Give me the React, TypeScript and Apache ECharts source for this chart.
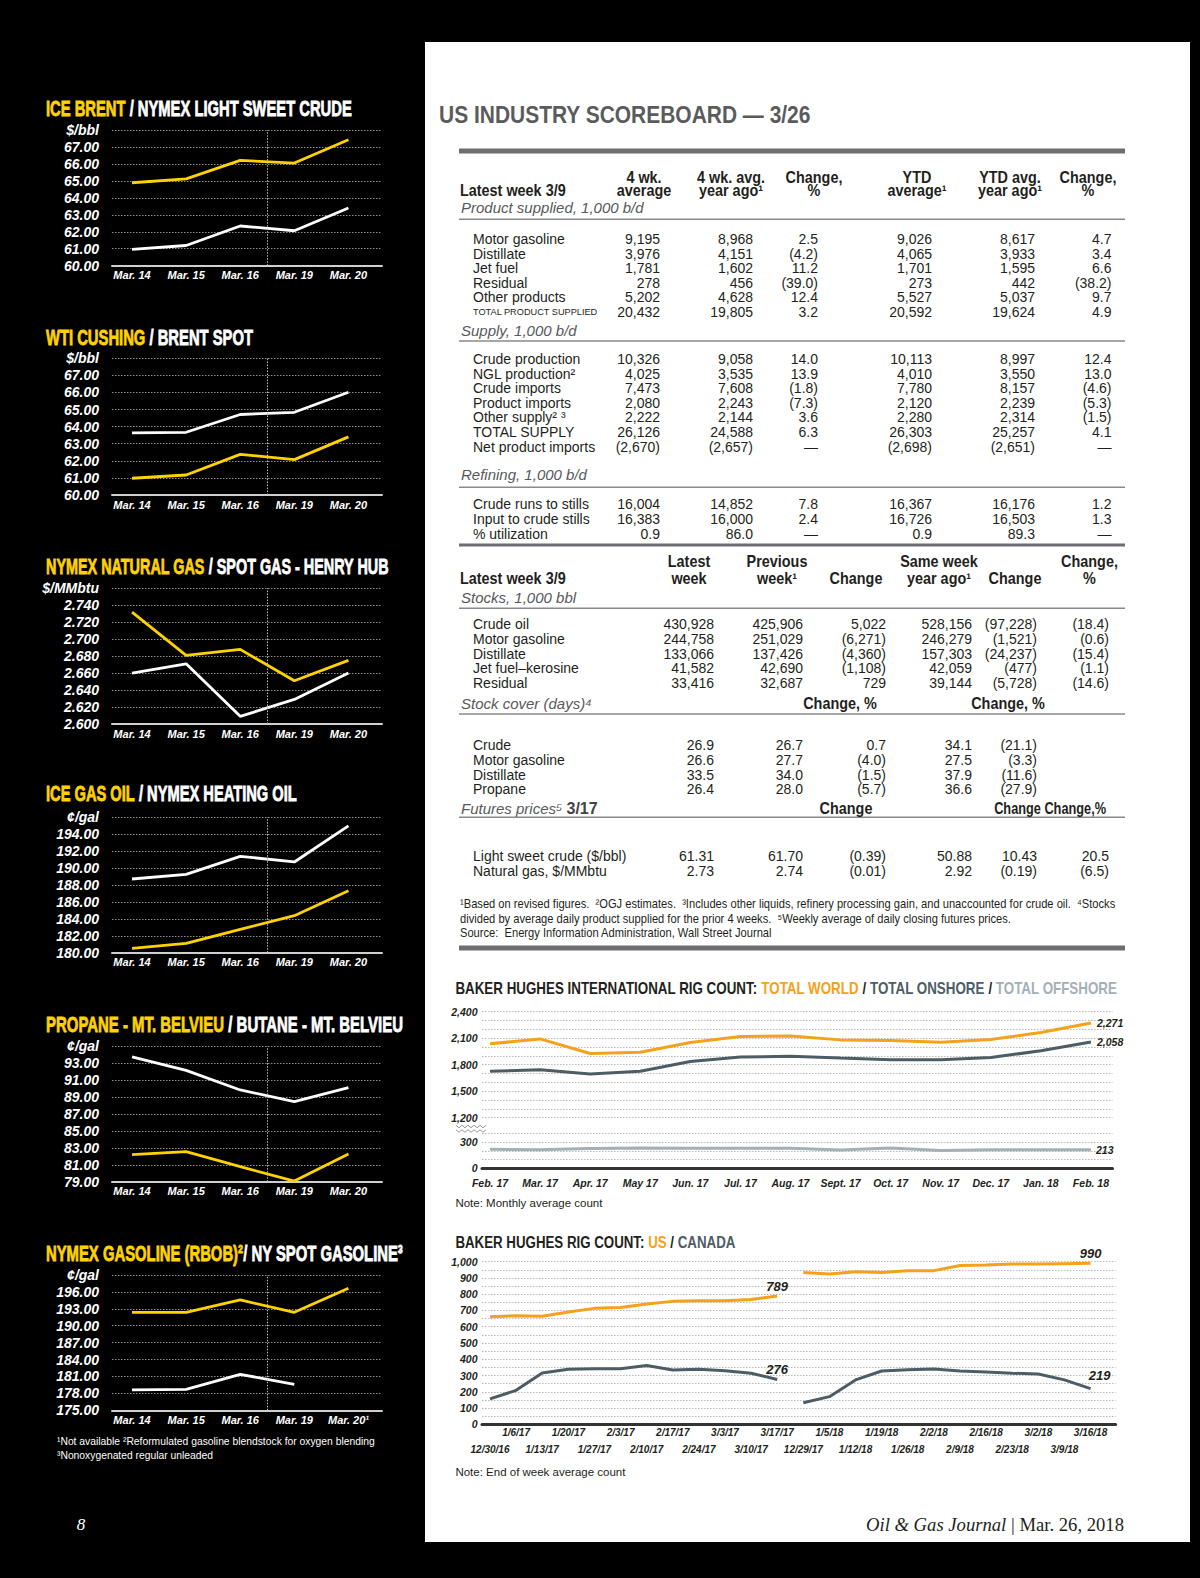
import React, { useEffect, useRef } from "react";
import * as echarts from "echarts";

/* ================= data ================= */
const marchDays = ["Mar. 14", "Mar. 15", "Mar. 16", "Mar. 19", "Mar. 20"];
const marchDaysNote = ["Mar. 14", "Mar. 15", "Mar. 16", "Mar. 19", "Mar. 20¹"];

const iceBrent = [64.89, 65.12, 66.21, 66.05, 67.42];
const nymexLightSweet = [60.96, 61.19, 62.34, 62.06, 63.4];
const wtiCushing = [60.98, 61.17, 62.38, 62.07, 63.4];
const brentSpot = [63.63, 63.67, 64.71, 64.84, 66.01];
const nymexNatGas = [2.732, 2.681, 2.688, 2.651, 2.675];
const henryHubSpot = [2.66, 2.671, 2.609, 2.629, 2.66];
const iceGasOil = [180.51, 181.1, 182.76, 184.37, 187.33];
const nymexHeatingOil = [188.71, 189.26, 191.39, 190.72, 194.98];
const propaneBelvieu = [82.19, 82.55, 80.77, 79.08, 82.27];
const butaneBelvieu = [93.74, 92.16, 89.84, 88.46, 90.11];
const nymexRbob = [192.38, 192.38, 194.57, 192.38, 196.64];
const nySpotGasoline = [178.61, 178.72, 181.38, 179.61, null];

const intlMonths = ["Feb. 17", "Mar. 17", "Apr. 17", "May 17", "Jun. 17", "Jul. 17", "Aug. 17", "Sept. 17", "Oct. 17", "Nov. 17", "Dec. 17", "Jan. 18", "Feb. 18"];
const intlWorld = [2036, 2092, 1927, 1942, 2051, 2119, 2126, 2081, 2074, 2055, 2085, 2164, 2271];
const intlOnshore = [1725, 1744, 1695, 1725, 1837, 1886, 1897, 1875, 1856, 1856, 1882, 1957, 2058];
const intlOffshore = [219, 215, 227, 235, 231, 231, 231, 212, 235, 204, 215, 215, 213];

const usWeeks = ["12/30/16", "1/6/17", "1/13/17", "1/20/17", "1/27/17", "2/3/17", "2/10/17", "2/17/17", "2/24/17", "3/3/17", "3/10/17", "3/17/17",
  "12/29/17", "1/5/18", "1/12/18", "1/19/18", "1/26/18", "2/2/18", "2/9/18", "2/16/18", "2/23/18", "3/2/18", "3/9/18", "3/16/18"];
const usRigs2017 = [662, 668, 664, 691, 713, 719, 740, 756, 760, 760, 768, 789];
const usRigs2018 = [934, 924, 938, 934, 945, 945, 977, 979, 986, 986, 988, 990];
const canadaRigs2017 = [156, 209, 316, 338, 342, 342, 361, 334, 338, 330, 314, 276];
const canadaRigs2018 = [133, 170, 273, 328, 336, 340, 328, 322, 314, 309, 273, 219];

/* ================= table text ================= */
const t1Head1 = ["4 wk.", "4 wk. avg.", "Change,", "YTD", "YTD avg.", "Change,"];
const t1Head2 = ["average", "year ago¹", "%", "average¹", "year ago¹", "%"];
const productRows = ["Motor gasoline", "Distillate", "Jet fuel", "Residual", "Other products", "TOTAL PRODUCT SUPPLIED"];
const productVals = [
  ["9,195", "8,968", "2.5", "9,026", "8,617", "4.7"],
  ["3,976", "4,151", "(4.2)", "4,065", "3,933", "3.4"],
  ["1,781", "1,602", "11.2", "1,701", "1,595", "6.6"],
  ["278", "456", "(39.0)", "273", "442", "(38.2)"],
  ["5,202", "4,628", "12.4", "5,527", "5,037", "9.7"],
  ["20,432", "19,805", "3.2", "20,592", "19,624", "4.9"],
];
const supplyRows = ["Crude production", "NGL production²", "Crude imports", "Product imports", "Other supply² ³", "TOTAL SUPPLY", "Net product imports"];
const supplyVals = [
  ["10,326", "9,058", "14.0", "10,113", "8,997", "12.4"],
  ["4,025", "3,535", "13.9", "4,010", "3,550", "13.0"],
  ["7,473", "7,608", "(1.8)", "7,780", "8,157", "(4.6)"],
  ["2,080", "2,243", "(7.3)", "2,120", "2,239", "(5.3)"],
  ["2,222", "2,144", "3.6", "2,280", "2,314", "(1.5)"],
  ["26,126", "24,588", "6.3", "26,303", "25,257", "4.1"],
  ["(2,670)", "(2,657)", "—", "(2,698)", "(2,651)", "—"],
];
const refiningRows = ["Crude runs to stills", "Input to crude stills", "% utilization"];
const refiningVals = [
  ["16,004", "14,852", "7.8", "16,367", "16,176", "1.2"],
  ["16,383", "16,000", "2.4", "16,726", "16,503", "1.3"],
  ["0.9", "86.0", "—", "0.9", "89.3", "—"],
];
const t2Head1 = ["Latest", "Previous", "", "Same week", "", "Change,"];
const t2Head2 = ["week", "week¹", "Change", "year ago¹", "Change", "%"];
const stockRows = ["Crude oil", "Motor gasoline", "Distillate", "Jet fuel–kerosine", "Residual"];
const stockVals = [
  ["430,928", "425,906", "5,022", "528,156", "(97,228)", "(18.4)"],
  ["244,758", "251,029", "(6,271)", "246,279", "(1,521)", "(0.6)"],
  ["133,066", "137,426", "(4,360)", "157,303", "(24,237)", "(15.4)"],
  ["41,582", "42,690", "(1,108)", "42,059", "(477)", "(1.1)"],
  ["33,416", "32,687", "729", "39,144", "(5,728)", "(14.6)"],
];
const coverRows = ["Crude", "Motor gasoline", "Distillate", "Propane"];
const coverVals = [
  ["26.9", "26.7", "0.7", "34.1", "(21.1)", ""],
  ["26.6", "27.7", "(4.0)", "27.5", "(3.3)", ""],
  ["33.5", "34.0", "(1.5)", "37.9", "(11.6)", ""],
  ["26.4", "28.0", "(5.7)", "36.6", "(27.9)", ""],
];
const futuresRows = ["Light sweet crude ($/bbl)", "Natural gas, $/MMbtu"];
const futuresVals = [
  ["61.31", "61.70", "(0.39)", "50.88", "10.43", "20.5"],
  ["2.73", "2.74", "(0.01)", "2.92", "(0.19)", "(6.5)"],
];
const tableFootnotes = [
  "¹Based on revised figures.  ²OGJ estimates.  ³Includes other liquids, refinery processing gain, and unaccounted for crude oil.  ⁴Stocks",
  "divided by average daily product supplied for the prior 4 weeks.  ⁵Weekly average of daily closing futures prices.",
  "Source:  Energy Information Administration, Wall Street Journal",
];
const leftFootnotes = ["¹Not available ²Reformulated gasoline blendstock for oxygen blending", "³Nonoxygenated regular unleaded"];

/* ================= styles / layout ================= */
const SANS = "'Liberation Sans', Arial, Helvetica, sans-serif";
const SERIF = "'Liberation Serif', 'Times New Roman', serif";
const INK = "#231f20";
const GREY_TXT = "#58595b";
const YEL = "#FFD200";
const ORG = "#F6A11B";
const ONS = "#4D5C65";
const OFF = "#A3B0B6";

const LEFT = [
  { a: "ICE BRENT", b: " / NYMEX LIGHT SWEET CRUDE", ty: 108.3, tw: 306, top: 130, bottom: 265.7, min: 60, max: 68, step: 1, unit: "$/bbl", dec: 2, y: iceBrent, w: nymexLightSweet, cats: marchDays },
  { a: "WTI CUSHING", b: " / BRENT SPOT", ty: 337.7, tw: 207, top: 358.3, bottom: 495, min: 60, max: 68, step: 1, unit: "$/bbl", dec: 2, y: wtiCushing, w: brentSpot, cats: marchDays },
  { a: "NYMEX NATURAL GAS", b: " / SPOT GAS - HENRY HUB", ty: 566.7, tw: 343, top: 588.3, bottom: 724, min: 2.6, max: 2.76, step: 0.02, unit: "$/MMbtu", dec: 3, y: nymexNatGas, w: henryHubSpot, cats: marchDays },
  { a: "ICE GAS OIL", b: " / NYMEX HEATING OIL", ty: 793.3, tw: 251, top: 817.3, bottom: 952.7, min: 180, max: 196, step: 2, unit: "¢/gal", dec: 2, y: iceGasOil, w: nymexHeatingOil, cats: marchDays },
  { a: "PROPANE - MT. BELVIEU", b: " / BUTANE - MT. BELVIEU", ty: 1024, tw: 357, top: 1046.3, bottom: 1181.7, min: 79, max: 95, step: 2, unit: "¢/gal", dec: 2, y: propaneBelvieu, w: butaneBelvieu, cats: marchDays },
  { a: "NYMEX GASOLINE (RBOB)²", b: "/ NY SPOT GASOLINE³", ty: 1253.3, tw: 357, top: 1275, bottom: 1410.3, min: 175, max: 199, step: 3, unit: "¢/gal", dec: 2, y: nymexRbob, w: nySpotGasoline, cats: marchDaysNote },
];

const T1_COLS = [660, 753, 818, 932, 1035, 1111.5];
const T1_HEAD_C = [644, 731, 814, 917, 1010, 1088];
const T2_COLS = [714, 803, 886, 972, 1037, 1109];
const T2_HEAD_C = [689, 777, 856, 939, 1015, 1089.5];

let measureCtx: CanvasRenderingContext2D | null = null;
function textWidth(text: string, size: number, weight = "normal", fstyle = "normal", family = SANS) {
  if (!measureCtx) measureCtx = document.createElement("canvas").getContext("2d");
  if (!measureCtx) return text.length * size * 0.55;
  measureCtx.font = `${fstyle} ${weight} ${size}px ${family}`;
  return measureCtx.measureText(text).width;
}

type Part = { t: string; fill: string; size: number; weight?: string; fstyle?: string; family?: string; stroke?: number };

function richLine(x: number, y: number, parts: Part[], target?: number, align = "left") {
  const rich: any = {};
  let total = 0;
  const text = parts
    .map((p, i) => {
      rich["s" + i] = {
        fill: p.fill, fontSize: p.size, fontWeight: p.weight ?? "normal", fontStyle: p.fstyle ?? "normal", fontFamily: p.family ?? SANS,
        ...(p.stroke ? { stroke: p.fill, lineWidth: p.stroke } : {}),
      };
      total += textWidth(p.t, p.size, p.weight ?? "normal", p.fstyle ?? "normal", p.family ?? SANS);
      return `{s${i}|${p.t}}`;
    })
    .join("");
  const sx = target ? target / total : 1;
  return {
    type: "text", x, y, z: 10, silent: true, scaleX: sx,
    style: { text, rich, textAlign: align, textVerticalAlign: "middle", fill: parts[0].fill, fontSize: parts[0].size, fontFamily: parts[0].family ?? SANS },
  };
}

function txt(x: number, y: number, text: string, o: any = {}) {
  return {
    type: "text", x, y, z: 10, silent: true, scaleX: o.sx ?? 1,
    style: {
      text, fill: o.fill ?? INK, fontSize: o.size ?? 14, fontWeight: o.weight ?? "normal", fontStyle: o.fstyle ?? "normal",
      fontFamily: o.family ?? SANS, textAlign: o.align ?? "left", textVerticalAlign: "middle",
    },
  };
}

function hline(x1: number, x2: number, y: number, w: number, color: string) {
  return { type: "line", z: 9, silent: true, shape: { x1, y1: y, x2, y2: y }, style: { stroke: color, lineWidth: w } };
}

function labelAt(cats: string[], v: number) {
  const i = Math.round(v);
  return Math.abs(v - i) < 1e-6 && cats[i] != null ? cats[i] : "";
}

function buildOption() {
  const grid: any[] = [], xAxis: any[] = [], yAxis: any[] = [], series: any[] = [], g: any[] = [];

  // white page panel
  g.push({ type: "rect", z: -5, silent: true, shape: { x: 425, y: 42, width: 1190 - 425, height: 1542 - 42 }, style: { fill: "#ffffff" } });

  /* ---------- left black column charts ---------- */
  LEFT.forEach((c) => {
    const gi = grid.length;
    grid.push({ left: 112, right: 1200 - 382, top: c.top, height: c.bottom - c.top, outerBoundsMode: "none" });
    const xi = xAxis.length;
    xAxis.push({
      gridIndex: gi, type: "value", min: -0.37, max: 4.62,
      axisLine: { show: true, onZero: false, lineStyle: { color: "#cfcfcf", width: 2 } },
      axisTick: { show: false }, splitLine: { show: false },
      axisLabel: { customValues: [0, 1, 2, 3, 4], formatter: (v: number) => labelAt(c.cats, v), color: "#fff", fontSize: 11, fontWeight: "bold", fontStyle: "italic", fontFamily: SANS, margin: 4, showMinLabel: true, showMaxLabel: true },
    });
    const yi = yAxis.length;
    yAxis.push({
      gridIndex: gi, type: "value", min: c.min, max: c.max, interval: c.step,
      axisLine: { show: false, onZero: false }, axisTick: { show: false },
      splitLine: { show: true, lineStyle: { color: "#8f8f8f", type: [1.5, 1.5], width: 1 } },
      axisLabel: {
        formatter: (v: number) => (Math.abs(v - c.max) < c.step / 10 ? c.unit : v.toFixed(c.dec)),
        color: "#fff", fontSize: 14, fontWeight: "bold", fontStyle: "italic", fontFamily: SANS, margin: 13,
      },
    });
    series.push({
      type: "line", xAxisIndex: xi, yAxisIndex: yi, silent: true, symbol: "none",
      data: c.y.map((v, i) => [i, v]), lineStyle: { color: YEL, width: 2.8 }, itemStyle: { color: YEL }, z: 3,
      markLine: { silent: true, symbol: ["none", "none"], label: { show: false }, lineStyle: { color: "#bdbdbd", type: [1.5, 1.5], width: 1 }, data: [{ xAxis: 2.5 }] },
    });
    series.push({
      type: "line", xAxisIndex: xi, yAxisIndex: yi, silent: true, symbol: "none",
      data: c.w.map((v, i) => [i, v]), lineStyle: { color: "#fff", width: 2.8 }, itemStyle: { color: "#fff" }, z: 3,
    });
    g.push(richLine(46, c.ty, [
      { t: c.a, fill: YEL, size: 22, weight: "bold", stroke: 0.8 },
      { t: c.b, fill: "#fff", size: 22, weight: "bold", stroke: 0.8 },
    ], c.tw));
  });
  {
    const sx = 318 / textWidth(leftFootnotes[0], 10.5);
    g.push(txt(57, 1441.7, leftFootnotes[0], { fill: "#fff", size: 10.5, sx }));
    g.push(txt(57, 1455, leftFootnotes[1], { fill: "#fff", size: 10.5, sx }));
  }

  /* ---------- scoreboard table ---------- */
  g.push(richLine(439, 115, [{ t: "US INDUSTRY SCOREBOARD — 3/26", fill: "#5b5b5d", size: 24, weight: "bold" }], 372));
  const HB = { weight: "bold", size: 16, sx: 0.9 };
  const SEC = { fstyle: "italic", size: 15, fill: GREY_TXT };
  const RX = 459, RX2 = 1125;
  g.push(hline(RX, RX2, 151, 5, "#6d6e71"));
  T1_HEAD_C.forEach((cx, i) => {
    g.push(txt(cx, 177, t1Head1[i], { ...HB, align: "center" }));
    g.push(txt(cx, 190.5, t1Head2[i], { ...HB, align: "center" }));
  });
  g.push(txt(460, 190.5, "Latest week 3/9", HB));
  g.push(txt(461, 207.3, "Product supplied, 1,000 b/d", SEC));
  g.push(hline(RX, RX2, 219.3, 1.5, "#8a8a8a"));

  const block = (labels: string[], vals: string[][], y0: number, dy: number, cols: number[]) => {
    labels.forEach((lab, r) => {
      const y = y0 + r * dy;
      g.push(txt(473, y, lab, lab === "TOTAL PRODUCT SUPPLIED" ? { size: 9.2 } : {}));
      vals[r].forEach((v, c) => { if (v) g.push(txt(cols[c], y, v, { align: "right" })); });
    });
  };
  block(productRows, productVals, 239.3, 14.5, T1_COLS);
  g.push(txt(461, 330, "Supply, 1,000 b/d", SEC));
  g.push(hline(RX, RX2, 341, 1.5, "#8a8a8a"));
  block(supplyRows, supplyVals, 359, 14.6, T1_COLS);
  g.push(txt(461, 474, "Refining, 1,000 b/d", SEC));
  g.push(hline(RX, RX2, 487.3, 1.5, "#8a8a8a"));
  block(refiningRows, refiningVals, 504.3, 14.7, T1_COLS);
  g.push(hline(RX, RX2, 545, 3, "#6d6e71"));

  T2_HEAD_C.forEach((cx, i) => {
    if (t2Head1[i]) g.push(txt(cx, 561.7, t2Head1[i], { ...HB, align: "center" }));
    g.push(txt(cx, 578.3, t2Head2[i], { ...HB, align: "center" }));
  });
  g.push(txt(460, 578.3, "Latest week 3/9", HB));
  g.push(txt(461, 597.3, "Stocks, 1,000 bbl", SEC));
  g.push(hline(RX, RX2, 608.3, 1.5, "#8a8a8a"));
  block(stockRows, stockVals, 624, 14.8, T2_COLS);
  g.push(txt(461, 703.3, "Stock cover (days)⁴", SEC));
  g.push(txt(840, 703.3, "Change, %", { ...HB, align: "center" }));
  g.push(txt(1008, 703.3, "Change, %", { ...HB, align: "center" }));
  g.push(hline(RX, RX2, 714, 1.5, "#8a8a8a"));
  block(coverRows, coverVals, 745, 14.8, T2_COLS);
  g.push(richLine(461, 808.3, [
    { t: "Futures prices⁵ ", fill: GREY_TXT, size: 15, fstyle: "italic" },
    { t: "3/17", fill: "#444", size: 16, weight: "bold" },
  ]));
  g.push(txt(846, 808.3, "Change", { ...HB, align: "center" }));
  g.push(richLine(1106, 808.3, [{ t: "Change Change,%", fill: INK, size: 16, weight: "bold" }], 112, "right"));
  g.push(hline(RX, RX2, 817.3, 1.5, "#8a8a8a"));
  block(futuresRows, futuresVals, 856, 15, T2_COLS);
  {
    const sx = 656 / textWidth(tableFootnotes[0], 12.5);
    tableFootnotes.forEach((f, i) => g.push(txt(460, [904, 918.5, 933][i], f, { size: 12.5, sx })));
  }
  g.push(hline(RX, RX2, 948, 5, "#6d6e71"));

  /* ---------- Baker Hughes international ---------- */
  g.push(richLine(455.4, 989, [
    { t: "BAKER HUGHES INTERNATIONAL RIG COUNT: ", fill: INK, size: 16, weight: "bold" },
    { t: "TOTAL WORLD", fill: ORG, size: 16, weight: "bold" },
    { t: " / ", fill: INK, size: 16, weight: "bold" },
    { t: "TOTAL ONSHORE", fill: ONS, size: 16, weight: "bold" },
    { t: " / ", fill: INK, size: 16, weight: "bold" },
    { t: "TOTAL OFFSHORE", fill: OFF, size: 16, weight: "bold" },
  ], 662));
  const AXL = { color: INK, fontSize: 10.5, fontWeight: "bold", fontStyle: "italic", fontFamily: SANS };
  const GRIDLINE = { lineStyle: { color: "#b9b9b9", type: [1.5, 1.5], width: 1 } };
  const IX = { min: -0.16, max: 12.43 };
  const RL = 482, RR = 1200 - 1112.5;
  const lineS = (xi: number, yi: number, data: any[], color: string, width = 3) => ({
    type: "line", xAxisIndex: xi, yAxisIndex: yi, silent: true, symbol: "circle", symbolSize: 0, showSymbol: true,
    data, lineStyle: { color, width }, itemStyle: { color }, z: 3,
  });
  const endLbl = (arr: number[], lbl: any, off = 0) =>
    arr.map((v, i) => (i === arr.length - 1 ? { value: [i + off, v], label: { show: true, ...lbl } } : [i + off, v]));
  const EL = { ...AXL, formatter: (p: any) => Number(p.value[1]).toLocaleString("en-US") };

  const gTop = grid.length;
  grid.push({ left: RL, right: RR, top: 1011.7, height: 106, outerBoundsMode: "none" });
  const xTop = xAxis.length;
  xAxis.push({ gridIndex: gTop, type: "value", ...IX, show: false });
  const yTop = yAxis.length;
  yAxis.push({
    gridIndex: gTop, type: "value", min: 1200, max: 2400, interval: 100,
    axisLine: { show: false, onZero: false }, axisTick: { show: false }, splitLine: GRIDLINE,
    axisLabel: { ...AXL, margin: 4.5, formatter: (v: number) => (v % 300 === 0 ? v.toLocaleString("en-US") : "") },
  });
  const gBot = grid.length;
  grid.push({ left: RL, right: RR, top: 1133.6, height: 34.7, outerBoundsMode: "none" });
  const xBot = xAxis.length;
  xAxis.push({
    gridIndex: gBot, type: "value", ...IX,
    axisLine: { show: true, onZero: false, lineStyle: { color: "#333", width: 3 } }, axisTick: { show: false }, splitLine: { show: false },
    axisLabel: { ...AXL, margin: 9, showMinLabel: true, showMaxLabel: true, customValues: intlMonths.map((_, i) => i), formatter: (v: number) => labelAt(intlMonths, v) },
  });
  const yBot = yAxis.length;
  yAxis.push({
    gridIndex: gBot, type: "value", min: 0, max: 400, interval: 100,
    axisLine: { show: false, onZero: false }, axisTick: { show: false }, splitLine: GRIDLINE,
    axisLabel: { ...AXL, margin: 4.5, formatter: (v: number) => (v === 0 || v === 300 ? String(v) : "") },
  });
  series.push(lineS(xTop, yTop, endLbl(intlWorld, { ...EL, position: "right", distance: 6 }), ORG));
  series.push(lineS(xTop, yTop, endLbl(intlOnshore, { ...EL, position: "right", distance: 6 }), ONS));
  series.push(lineS(xBot, yBot, endLbl(intlOffshore, { ...EL, position: "right", distance: 5 }), OFF));
  // axis break mark
  [1126.5, 1131].forEach((yy) => {
    const pts: number[][] = [];
    for (let k = 0; k <= 10; k++) pts.push([456 + k * 3, yy + (k % 2 === 0 ? -1.3 : 1.3)]);
    g.push({ type: "polyline", z: 9, silent: true, shape: { points: pts }, style: { stroke: "#9a9a9a", lineWidth: 1, fill: null } });
  });
  g.push(txt(455.4, 1202.7, "Note: Monthly average count", { size: 11.5 }));

  /* ---------- Baker Hughes US / Canada ---------- */
  g.push(richLine(455.4, 1242.7, [
    { t: "BAKER HUGHES RIG COUNT: ", fill: INK, size: 16, weight: "bold" },
    { t: "US", fill: ORG, size: 16, weight: "bold" },
    { t: " / ", fill: INK, size: 16, weight: "bold" },
    { t: "CANADA", fill: ONS, size: 16, weight: "bold" },
  ], 280));
  const gUs = grid.length;
  grid.push({ left: RL, right: 1200 - 1115.6, top: 1261.7, height: 162.6, outerBoundsMode: "none" });
  const UX = { min: -0.306, max: 23.96 };
  const usLbl = { ...AXL, fontSize: 10, showMinLabel: true, showMaxLabel: true, formatter: (v: number) => labelAt(usWeeks, v) };
  const xUs = xAxis.length;
  xAxis.push({
    gridIndex: gUs, type: "value", ...UX, position: "bottom",
    axisLine: { show: true, onZero: false, lineStyle: { color: "#333", width: 3 } }, axisTick: { show: false }, splitLine: { show: false },
    axisLabel: { ...usLbl, margin: 3.5, customValues: usWeeks.map((_, i) => i).filter((i) => i % 2 === 1) },
  });
  xAxis.push({
    gridIndex: gUs, type: "value", ...UX, position: "bottom", offset: 0,
    axisLine: { show: false, onZero: false }, axisTick: { show: false }, splitLine: { show: false },
    axisLabel: { ...usLbl, margin: 19.7, customValues: usWeeks.map((_, i) => i).filter((i) => i % 2 === 0) },
  });
  const yUs = yAxis.length;
  yAxis.push({
    gridIndex: gUs, type: "value", min: 0, max: 1000, interval: 50,
    axisLine: { show: false, onZero: false }, axisTick: { show: false }, splitLine: GRIDLINE,
    axisLabel: { ...AXL, margin: 4.5, formatter: (v: number) => (v % 100 === 0 ? v.toLocaleString("en-US") : "") },
  });
  const BL = { ...EL, fontSize: 13, position: "top", distance: 3 };
  series.push(lineS(xUs, yUs, endLbl(usRigs2017, BL, 0), ORG));
  series.push(lineS(xUs, yUs, endLbl(usRigs2018, BL, 12), ORG));
  series.push(lineS(xUs, yUs, endLbl(canadaRigs2017, BL, 0), ONS));
  series.push(lineS(xUs, yUs, endLbl(canadaRigs2018, { ...BL, offset: [9, -4] }, 12), ONS));
  g.push(txt(455.4, 1472.3, "Note: End of week average count", { size: 11.5 }));

  /* ---------- footer ---------- */
  g.push(txt(81, 1524, "8", { fill: "#fff", size: 17, fstyle: "italic", family: SERIF, align: "center" }));
  g.push(richLine(866, 1525, [
    { t: "Oil & Gas Journal", fill: INK, size: 18, fstyle: "italic", family: SERIF },
    { t: " | Mar. 26, 2018", fill: INK, size: 18, family: SERIF },
  ], 258));

  return {
    animation: false,
    backgroundColor: "#000000",
    grid, xAxis, yAxis, series,
    graphic: { elements: g },
  };
}

export default function App() {
  const ref = useRef<HTMLDivElement>(null);
  useEffect(() => {
    if (!ref.current) return;
    const chart = echarts.init(ref.current, undefined, { renderer: "svg" });
    chart.setOption(buildOption() as any);
    return () => chart.dispose();
  }, []);
  return <div ref={ref} style={{ position: "absolute", left: 0, top: 0, width: 1200, height: 1578 }} />;
}
